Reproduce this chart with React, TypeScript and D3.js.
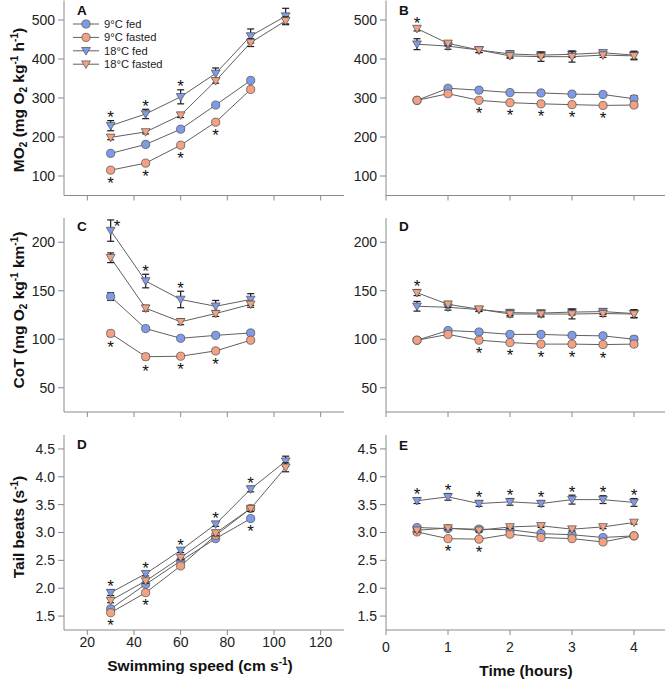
import React from "react";
import * as d3 from "d3";

// ---------- data ----------
const speeds = [30, 45, 60, 75, 90, 105];
const hours = [0.5, 1, 1.5, 2, 2.5, 3, 3.5, 4];
const seriesNames = ["9°C fed", "9°C fasted", "18°C fed", "18°C fasted"];

const speedTicks = [20, 40, 60, 80, 100, 120];
const hourTicks = [0, 1, 2, 3, 4];
const moTicks = [100, 200, 300, 400, 500];
const cotTicks = [50, 100, 150, 200];
const tbTicks = [1.5, 2.0, 2.5, 3.0, 3.5, 4.0, 4.5];

// Panel A: MO2 vs swimming speed
const moSpeed9Fed = [158, 181, 220, 282, 345];
const moSpeed9Fasted = [115, 133, 179, 238, 322];
const moSpeed18Fed = [229, 259, 303, 363, 459, 510];
const moSpeed18Fasted = [199, 213, 256, 344, 442, 498];
const moSpeed9FedSE = [4, 4, 4, 4, 4];
const moSpeed9FastedSE = [4, 4, 4, 4, 4];
const moSpeed18FedSE = [13, 12, 18, 14, 18, 20];
const moSpeed18FastedSE = [6, 5, 6, 6, 10, 10];

// Panel B: MO2 vs time
const moTime9Fed = [294, 325, 320, 314, 313, 310, 309, 298];
const moTime9Fasted = [294, 311, 294, 288, 285, 283, 281, 282];
const moTime18Fed = [438, 433, 423, 413, 410, 412, 416, 410];
const moTime18Fasted = [478, 440, 423, 408, 406, 406, 410, 408];
const moTime9FedSE = [4, 4, 4, 4, 4, 4, 4, 8];
const moTime9FastedSE = [4, 4, 4, 4, 4, 4, 4, 4];
const moTime18FedSE = [14, 8, 7, 8, 6, 8, 5, 10];
const moTime18FastedSE = [6, 6, 6, 6, 12, 14, 6, 10];

// Panel C: CoT vs swimming speed
const cotSpeed9Fed = [144, 111, 101, 104, 106.5];
const cotSpeed9Fasted = [106, 82, 82.5, 88, 99];
const cotSpeed18Fed = [212, 160, 141, 134, 141];
const cotSpeed18Fasted = [184, 132, 118, 126.5, 136];
const cotSpeed9FedSE = [4, 2, 2, 2, 2];
const cotSpeed9FastedSE = [3, 3, 2, 2, 2];
const cotSpeed18FedSE = [11, 7, 8.5, 6, 6];
const cotSpeed18FastedSE = [5, 3, 3, 3, 3];

// Panel D (right): CoT vs time
const cotTime9Fed = [99, 109, 107.5, 105, 105, 104, 103.5, 100];
const cotTime9Fasted = [99, 105, 99, 96.6, 95, 95, 94.5, 95];
const cotTime18Fed = [134, 133, 130.6, 127.5, 127, 128, 128.5, 126.5];
const cotTime18Fasted = [148, 136, 131, 126, 126, 126, 126.5, 126];
const cotTime9FedSE = [2, 2, 2, 2, 2, 2, 2, 3];
const cotTime9FastedSE = [2, 2, 2, 2, 2, 2, 2, 2];
const cotTime18FedSE = [5, 3, 2, 3, 3, 3, 3, 4];
const cotTime18FastedSE = [3, 3, 2, 3, 3, 5, 3, 4];

// Panel D (left): tail beats vs swimming speed
const tbSpeed9Fed = [1.63, 2.07, 2.49, 2.89, 3.25];
const tbSpeed9Fasted = [1.56, 1.92, 2.4, 2.95, 3.43];
const tbSpeed18Fed = [1.92, 2.26, 2.68, 3.15, 3.78, 4.28];
const tbSpeed18Fasted = [1.78, 2.13, 2.55, 2.99, 3.43, 4.17];
const tbSpeed9FedSE = [0.03, 0.03, 0.03, 0.03, 0.03];
const tbSpeed9FastedSE = [0.03, 0.03, 0.03, 0.03, 0.03];
const tbSpeed18FedSE = [0.05, 0.04, 0.04, 0.04, 0.05, 0.09];
const tbSpeed18FastedSE = [0.04, 0.04, 0.04, 0.05, 0.05, 0.08];

// Panel E: tail beats vs time
const tbTime9Fed = [3.09, 3.07, 3.06, 3.05, 2.98, 2.96, 2.91, 2.94];
const tbTime9Fasted = [3.01, 2.89, 2.88, 2.97, 2.91, 2.89, 2.83, 2.94];
const tbTime18Fed = [3.57, 3.64, 3.52, 3.55, 3.52, 3.59, 3.59, 3.54];
const tbTime18Fasted = [3.04, 3.08, 3.04, 3.1, 3.12, 3.06, 3.1, 3.18];
const tbTime9FedSE = [0.03, 0.03, 0.03, 0.03, 0.03, 0.03, 0.03, 0.03];
const tbTime9FastedSE = [0.03, 0.03, 0.03, 0.03, 0.03, 0.03, 0.03, 0.03];
const tbTime18FedSE = [0.05, 0.06, 0.05, 0.06, 0.05, 0.08, 0.07, 0.07];
const tbTime18FastedSE = [0.03, 0.03, 0.03, 0.03, 0.03, 0.03, 0.03, 0.03];

// significance markers: [series index, point index, placement]
const starsA = [[2, 0, "a"], [2, 1, "a"], [2, 2, "a"], [1, 0, "b"], [1, 1, "b"], [1, 2, "b"], [1, 3, "b"]];
const starsB = [[3, 0, "a"], [1, 2, "b"], [1, 3, "b"], [1, 4, "b"], [1, 5, "b"], [1, 6, "b"]];
const starsC = [[2, 0, "r"], [2, 1, "a"], [2, 2, "a"], [1, 0, "b"], [1, 1, "b"], [1, 2, "b"], [1, 3, "b"]];
const starsDr = [[3, 0, "a"], [1, 2, "b"], [1, 3, "b"], [1, 4, "b"], [1, 5, "b"], [1, 6, "b"]];
const starsDl = [[2, 0, "a"], [2, 1, "a"], [2, 2, "a"], [2, 3, "a"], [2, 4, "a"], [1, 0, "b"], [1, 1, "b"], [0, 4, "b"]];
const starsE = [[2, 0, "a"], [2, 1, "a"], [2, 2, "a"], [2, 3, "a"], [2, 4, "a"], [2, 5, "a"], [2, 6, "a"], [2, 7, "a"], [1, 1, "b"], [1, 2, "b"]];

// axis titles (segments: text, vertical role)
const titleMo = [["MO"], ["2", "sub"], [" (mg O"], ["2", "sub"], [" kg"], ["-1", "sup"], [" h"], ["-1", "sup"], [")"]];
const titleCot = [["CoT (mg O"], ["2", "sub"], [" kg"], ["-1", "sup"], [" km"], ["-1", "sup"], [")"]];
const titleTb = [["Tail beats (s"], ["-1", "sup"], [")"]];
const titleSpeed = [["Swimming speed (cm s"], ["-1", "sup"], [")"]];
const titleTime = [["Time (hours)"]];

// ---------- styling ----------
const BLUE = "#7f9be6";
const ORANGE = "#f2a283";
const AXIS = "#8a8a8a";
const LINE = "#606060";
const FONT = "Arial, 'Liberation Sans', sans-serif";
const styles = [
  { kind: "circle", color: BLUE },
  { kind: "circle", color: ORANGE },
  { kind: "tri", color: BLUE },
  { kind: "tri", color: ORANGE },
];

const TRI = "M-4.4,-3.3L4.4,-3.3L0,4.3Z";

function Marker({ kind, color, x, y }) {
  if (kind === "circle")
    return <circle cx={x} cy={y} r={4.1} fill={color} stroke="#4d4d4d" strokeWidth={0.7} />;
  return <path d={TRI} transform={`translate(${x},${y})`} fill={color} stroke="#4d4d4d" strokeWidth={0.7} />;
}

function rich(segs) {
  let cur = 0;
  return segs.map(([t, role], i) => {
    const target = role === "sub" ? 3.5 : role === "sup" ? -6 : 0;
    const dy = target - cur;
    cur = target;
    return (
      <tspan key={i} dy={dy} fontSize={role ? 10 : undefined}>
        {t}
      </tspan>
    );
  });
}

// scales
const xSpeed = d3.scaleLinear().domain([10, 130]).range([64, 344]);
const xHour = d3.scaleLinear().domain([0, 4.5]).range([386, 665]);
const yMo = d3.scaleLinear().domain([50, 550]).range([195.5, 0.5]);
const yCot = d3.scaleLinear().domain([25, 225]).range([412, 218]);
const yTb = d3.scaleLinear().domain([1.25, 4.75]).range([630, 435]);

function Panel({ xs, ys, xVals, data, se, stars, xTicks, yTicks, yFmt, xLabels, xLabelY, letter, letterY }) {
  const x0 = xs.range()[0];
  const x1 = xs.range()[1];
  const yB = ys.range()[0];
  const yT = ys.range()[1];
  const line = d3.line().x((d) => xs(d[0])).y((d) => ys(d[1]));
  return (
    <g>
      <line x1={x0} x2={x0} y1={yT} y2={yB} stroke={AXIS} strokeWidth={1} />
      <line x1={x0} x2={x1} y1={yB} y2={yB} stroke={AXIS} strokeWidth={1} />
      {yTicks.map((t) => (
        <g key={"y" + t}>
          <line x1={x0 - 6} x2={x0} y1={ys(t)} y2={ys(t)} stroke={AXIS} />
          <text x={x0 - 9} y={ys(t)} dy="0.35em" textAnchor="end" fontSize={14} fill="#222" fontFamily={FONT}>
            {yFmt(t)}
          </text>
        </g>
      ))}
      {xTicks.map((t) => (
        <g key={"x" + t}>
          <line x1={xs(t)} x2={xs(t)} y1={yB} y2={yB + 5} stroke={AXIS} />
          {xLabels && (
            <text x={xs(t)} y={xLabelY} textAnchor="middle" fontSize={14} fill="#222" fontFamily={FONT}>
              {t}
            </text>
          )}
        </g>
      ))}
      <text x={x0 + 13} y={letterY} fontSize={13.5} fontWeight="bold" fontFamily={FONT} fill="#111">
        {letter}
      </text>
      {data.map((vals, i) => (
        <path key={"l" + i} d={line(vals.map((v, j) => [xVals[j], v]))} fill="none" stroke={LINE} strokeWidth={1} />
      ))}
      {data.map((vals, i) => (
        <g key={"s" + i}>
          {vals.map((v, j) => {
            const cx = xs(xVals[j]);
            const ya = ys(v + se[i][j]);
            const yb = ys(v - se[i][j]);
            return (
              <g key={j}>
                <line x1={cx} x2={cx} y1={ya} y2={yb} stroke="#1a1a1a" strokeWidth={1.2} />
                <line x1={cx - 3.5} x2={cx + 3.5} y1={ya} y2={ya} stroke="#1a1a1a" strokeWidth={1.2} />
                <line x1={cx - 3.5} x2={cx + 3.5} y1={yb} y2={yb} stroke="#1a1a1a" strokeWidth={1.2} />
              </g>
            );
          })}
          {vals.map((v, j) => (
            <Marker key={"m" + j} kind={styles[i].kind} color={styles[i].color} x={xs(xVals[j])} y={ys(v)} />
          ))}
        </g>
      ))}
      {stars.map(([si, pj, pl], k) => {
        const v = data[si][pj];
        const e = se[si][pj];
        let sx = xs(xVals[pj]);
        let sy;
        if (pl === "a") sy = ys(v + e) - 6.5;
        else if (pl === "b") sy = ys(v - e) + 8;
        else {
          sx += 6.5;
          sy = ys(v + e) + 3;
        }
        return (
          <text key={"st" + k} x={sx} y={sy + 9} textAnchor="middle" fontSize={17} fill="#111" fontFamily={FONT}>
            *
          </text>
        );
      })}
    </g>
  );
}

function YTitle({ x, y, segs }) {
  return (
    <text
      transform={`translate(${x},${y}) rotate(-90)`}
      textAnchor="middle"
      fontSize={15.5}
      fontWeight="bold"
      fontFamily={FONT}
      fill="#111"
    >
      {rich(segs)}
    </text>
  );
}

export default function App() {
  const f0 = (t) => String(t);
  const f1 = (t) => t.toFixed(1);
  return (
    <svg
      width={666}
      height={682}
      style={{ position: "absolute", left: 0, top: 0, background: "#fff" }}
      fontFamily={FONT}
    >
      <rect width={666} height={682} fill="#fff" />
      <Panel xs={xSpeed} ys={yMo} xVals={speeds}
        data={[moSpeed9Fed, moSpeed9Fasted, moSpeed18Fed, moSpeed18Fasted]}
        se={[moSpeed9FedSE, moSpeed9FastedSE, moSpeed18FedSE, moSpeed18FastedSE]}
        stars={starsA} xTicks={speedTicks} yTicks={moTicks} yFmt={f0} xLabels={false}
        letter="A" letterY={14.5} />
      <Panel xs={xHour} ys={yMo} xVals={hours}
        data={[moTime9Fed, moTime9Fasted, moTime18Fed, moTime18Fasted]}
        se={[moTime9FedSE, moTime9FastedSE, moTime18FedSE, moTime18FastedSE]}
        stars={starsB} xTicks={hourTicks} yTicks={moTicks} yFmt={f0} xLabels={false}
        letter="B" letterY={15} />
      <Panel xs={xSpeed} ys={yCot} xVals={speeds}
        data={[cotSpeed9Fed, cotSpeed9Fasted, cotSpeed18Fed, cotSpeed18Fasted]}
        se={[cotSpeed9FedSE, cotSpeed9FastedSE, cotSpeed18FedSE, cotSpeed18FastedSE]}
        stars={starsC} xTicks={speedTicks} yTicks={cotTicks} yFmt={f0} xLabels={false}
        letter="C" letterY={230.5} />
      <Panel xs={xHour} ys={yCot} xVals={hours}
        data={[cotTime9Fed, cotTime9Fasted, cotTime18Fed, cotTime18Fasted]}
        se={[cotTime9FedSE, cotTime9FastedSE, cotTime18FedSE, cotTime18FastedSE]}
        stars={starsDr} xTicks={hourTicks} yTicks={cotTicks} yFmt={f0} xLabels={false}
        letter="D" letterY={230.5} />
      <Panel xs={xSpeed} ys={yTb} xVals={speeds}
        data={[tbSpeed9Fed, tbSpeed9Fasted, tbSpeed18Fed, tbSpeed18Fasted]}
        se={[tbSpeed9FedSE, tbSpeed9FastedSE, tbSpeed18FedSE, tbSpeed18FastedSE]}
        stars={starsDl} xTicks={speedTicks} yTicks={tbTicks} yFmt={f1} xLabels={true} xLabelY={647}
        letter="D" letterY={448.5} />
      <Panel xs={xHour} ys={yTb} xVals={hours}
        data={[tbTime9Fed, tbTime9Fasted, tbTime18Fed, tbTime18Fasted]}
        se={[tbTime9FedSE, tbTime9FastedSE, tbTime18FedSE, tbTime18FastedSE]}
        stars={starsE} xTicks={hourTicks} yTicks={tbTicks} yFmt={f1} xLabels={true} xLabelY={652}
        letter="E" letterY={450} />

      {seriesNames.map((n, i) => {
        const ly = 24 + i * 13.4;
        return (
          <g key={n}>
            <line x1={73} x2={99} y1={ly} y2={ly} stroke={LINE} strokeWidth={1} />
            <Marker kind={styles[i].kind} color={styles[i].color} x={86} y={ly} />
            <text x={104} y={ly} dy="0.35em" fontSize={11.2} fill="#222" fontFamily={FONT}>{n}</text>
          </g>
        );
      })}

      <YTitle x={23.5} y={100} segs={titleMo} />
      <YTitle x={23.5} y={310} segs={titleCot} />
      <YTitle x={23.5} y={527} segs={titleTb} />
      <text x={200} y={671} textAnchor="middle" fontSize={15.5} fontWeight="bold" fontFamily={FONT} fill="#111">
        {rich(titleSpeed)}
      </text>
      <text x={526} y={676} textAnchor="middle" fontSize={15.5} fontWeight="bold" fontFamily={FONT} fill="#111">
        {rich(titleTime)}
      </text>
    </svg>
  );
}
